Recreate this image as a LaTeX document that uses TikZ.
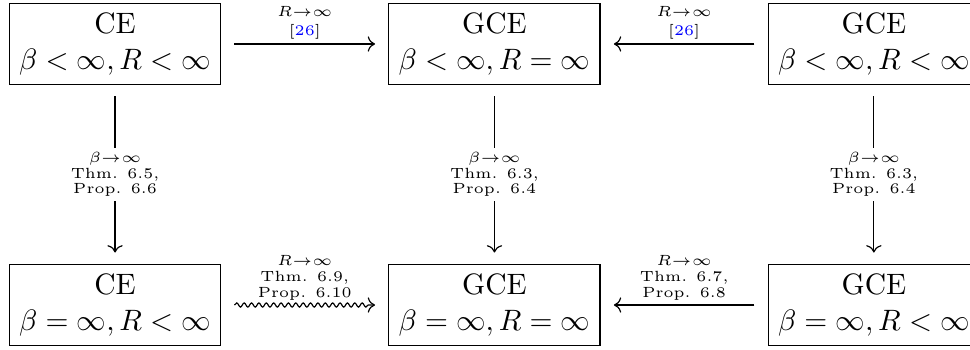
\documentclass[tikz,border=0pt]{standalone}
\usepackage{xcolor}
\usetikzlibrary{arrows.meta, positioning, decorations.pathmorphing}

\begin{document}
\begin{tikzpicture}[
      node distance=3.11cm and 4.52cm, on grid,
      ensemble/.style={rectangle, draw, align=center, inner sep=3.3pt, outer xsep=4.7pt, outer ysep=4pt},
      limit/.style={->},
      lbl/.style={font=\fontsize{5}{5.3}\selectfont, align=center, inner sep=1.5pt},
      squig/.style={decorate, decoration={snake, amplitude=0.7pt, segment length=2.5pt, post length=2pt}}
    ]
    \useasboundingbox (-39pt,14.9pt) rectangle (289.8pt,-103.4pt);

    \node[ensemble] (ceFin) at (0,0) {CE\\$\beta<\infty, R<\infty$};
    \node[ensemble, right=of ceFin] (gceLim) {GCE\\$\beta<\infty, R=\infty$};
    \node[ensemble, right=of gceLim] (gceFin) {GCE\\$\beta<\infty, R<\infty$};
    \node[ensemble, below=of ceFin] (ceZero) {CE\\$\beta=\infty, R<\infty$};
    \node[ensemble, below=of gceLim] (gceZero) {GCE\\$\beta=\infty, R=\infty$};
    \node[ensemble, below=of gceFin] (gceZeroFin) {GCE\\$\beta=\infty, R<\infty$};

    % R -> infinity
    \draw[limit] (ceFin) -- node[above, lbl] {$R{\to}\infty$\\[1pt]{[}\textcolor{blue}{26}{]}} (gceLim);
    \draw[limit] (gceFin) -- node[above, lbl] {$R{\to}\infty$\\[1pt]{[}\textcolor{blue}{26}{]}} (gceLim);
    \draw[limit, squig] (ceZero) -- node[above, lbl] {$R{\to}\infty$\\Thm. 6.9,\\Prop. 6.10} (gceZero);
    \draw[limit] (gceZeroFin) -- node[above, lbl] {$R{\to}\infty$\\Thm. 6.7,\\Prop. 6.8} (gceZero);

    % beta -> infinity
    \draw[limit] (ceFin) -- node[lbl, fill=white] {$\beta{\to}\infty$\\Thm. 6.5,\\Prop. 6.6} (ceZero);
    \draw[limit] (gceLim) -- node[lbl, fill=white] {$\beta{\to}\infty$\\Thm. 6.3,\\Prop. 6.4} (gceZero);
    \draw[limit] (gceFin) -- node[lbl, fill=white] {$\beta{\to}\infty$\\Thm. 6.3,\\Prop. 6.4} (gceZeroFin);
  \end{tikzpicture}
\end{document}
